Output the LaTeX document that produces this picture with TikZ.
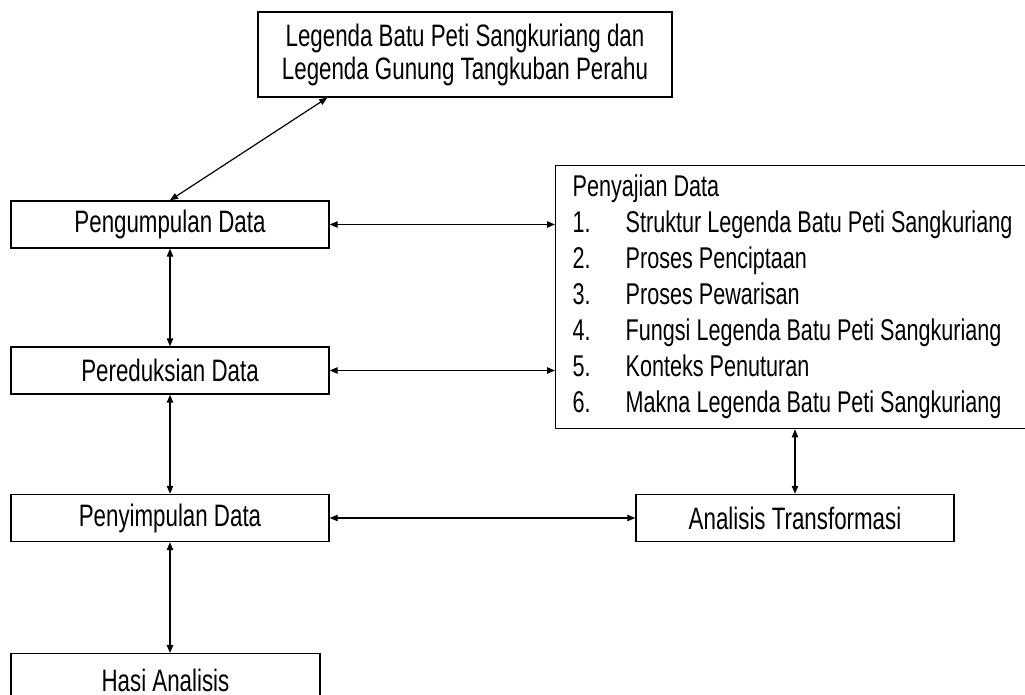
\documentclass[tikz,border=0pt]{standalone}
\usepackage{fontspec}
\setmainfont{Liberation Sans}[FakeStretch=0.72]
\usepackage{tikz}
\usetikzlibrary{arrows.meta}

\tikzset{
  kotak/.style = {draw, line width=0.7pt, minimum width=159pt, minimum height=23.5pt,
                  inner sep=0pt, font=\fontsize{15.5}{16.5}\selectfont},
  panah/.style = {line width=0.6pt, {Triangle[length=4pt,width=3.2pt]}-{Triangle[length=4pt,width=3.2pt]}},
}

\begin{document}
\begin{tikzpicture}[x=0.5pt, y=-0.5pt]
    \useasboundingbox (0,0) rectangle (1025,695);
    \clip (0,0) rectangle (1025,695);
    % Definizione dei kotak
    \node[kotak, minimum width=207pt, minimum height=42.5pt, align=center] (legenda) at (465,54.5)
      {Legenda Batu Peti Sangkuriang dan\\Legenda Gunung Tangkuban Perahu};
    \node[kotak] (pengumpulan) at (170,224.5) {Pengumpulan Data};
    \node[kotak] (pereduksian) at (170,370.5) {Pereduksian Data};
    \node[kotak] (penyimpulan) at (170,518)   {Penyimpulan Data};
    \node[kotak, minimum width=154.5pt, minimum height=30pt, anchor=north] (hasi) at (165.5,653) {};
    \node (hasi-teks) at (165.5,680) [font=\fontsize{15.5}{16.5}\selectfont] {Hasi Analisis};
    \node[kotak] (analisis) at (795,518) {Analisis Transformasi};
    \node[kotak, anchor=north west, inner xsep=8.5pt, text width=260pt, minimum height=131.5pt,
          align=flush left, font=\fontsize{15}{18}\selectfont] (penyajian) at (555,165)
      {Penyajian Data\\
       \makebox[26.5pt][l]{1.}Struktur Legenda Batu Peti Sangkuriang\\
       \makebox[26.5pt][l]{2.}Proses Penciptaan\\
       \makebox[26.5pt][l]{3.}Proses Pewarisan\\
       \makebox[26.5pt][l]{4.}Fungsi Legenda Batu Peti Sangkuriang\\
       \makebox[26.5pt][l]{5.}Konteks Penuturan\\
       \makebox[26.5pt][l]{6.}Makna Legenda Batu Peti Sangkuriang};

    % Panah antar kotak
    \draw[panah] ([xshift=35pt]legenda.south west) -- (pengumpulan.north);
    \draw[panah] (pengumpulan.east) -- (penyajian.west |- pengumpulan.east);
    \draw[panah] (pereduksian.east) -- (penyajian.west |- pereduksian.east);
    \draw[panah] (pengumpulan.south) -- (pereduksian.north);
    \draw[panah] (pereduksian.south) -- (penyimpulan.north);
    \draw[panah] (penyimpulan.east) -- (analisis.west);
    \draw[panah] (analisis.north) -- (analisis.north |- penyajian.south);
    \draw[panah] (penyimpulan.south) -- (penyimpulan.south |- hasi.north);
\end{tikzpicture}
\end{document}
